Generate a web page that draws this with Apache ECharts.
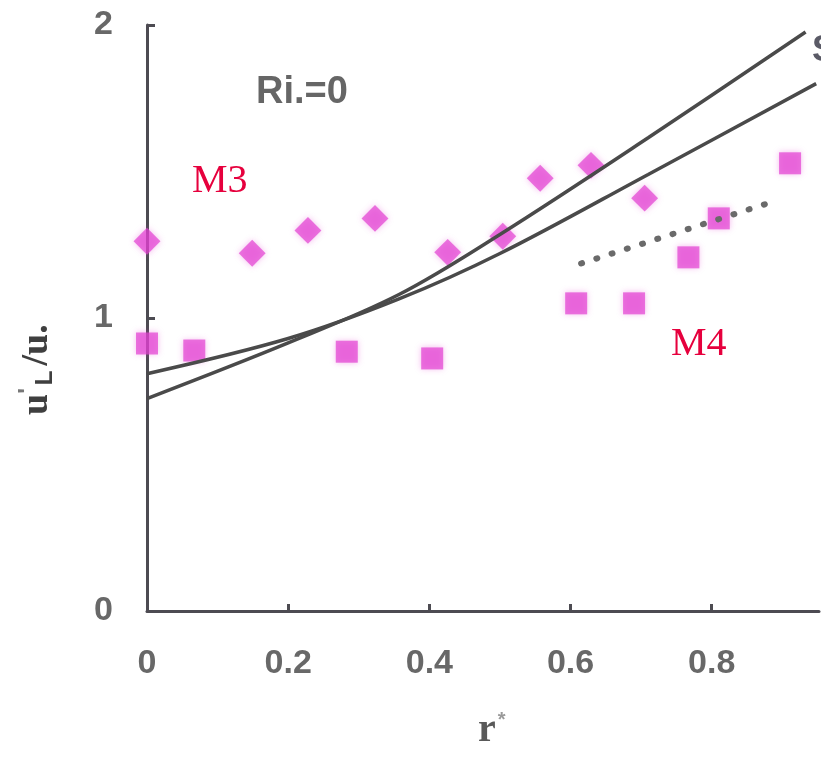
<!DOCTYPE html>
<html>
<head>
<meta charset="utf-8">
<script src="https://cdn.jsdelivr.net/npm/echarts@6/dist/echarts.min.js"></script>
<style>
html,body{margin:0;padding:0;background:#fff;}
#chart{width:821px;height:757px;}
</style>
</head>
<body>
<div id="chart"></div>
<script>
// Data
var xTicks = [0, 0.2, 0.4, 0.6, 0.8];
var yTicks = [0, 1, 2];
var m3Points = [[0,1.262],[0.149,1.221],[0.228,1.299],[0.323,1.340],[0.426,1.224],[0.504,1.279],[0.557,1.477],[0.629,1.521],[0.705,1.409]];
var m4Points = [[0,0.913],[0.067,0.889],[0.283,0.885],[0.404,0.862],[0.608,1.05],[0.690,1.05],[0.767,1.207],[0.810,1.34],[0.911,1.528]];
var curveFlat = [[0,0.81],[0.2,0.93],[0.357,1.065],[0.5,1.22],[0.71,1.49],[0.948,1.80]];
var curveSteep = [[0,0.725],[0.2,0.915],[0.357,1.08],[0.5,1.285],[0.71,1.615],[0.933,1.976]];
var dottedLine = [[0.615,1.186],[0.888,1.398]];

var chart = echarts.init(document.getElementById('chart'), null, {renderer:'canvas'});
var axisColor = '#4d4b52';
var labelFont = {color:'#686868', fontSize:34, fontWeight:'bold', fontFamily:'Liberation Sans, Arial, sans-serif'};
var mag = 'rgba(226,62,210,0.88)';

chart.setOption({
  backgroundColor:'#ffffff',
  animation:false,
  grid:{left:147, top:25, width:672, height:586, containLabel:false},
  xAxis:{
    type:'value', min:0, max:0.952, interval:0.2,
    axisLine:{show:true, onZero:false, lineStyle:{color:axisColor, width:3}},
    axisTick:{show:true, inside:true, length:7, lineStyle:{color:axisColor, width:3}},
    splitLine:{show:false},
    axisLabel:Object.assign({margin:36, showMaxLabel:false, formatter:function(v){
      for (var i=0;i<xTicks.length;i++){ if (Math.abs(v-xTicks[i])<1e-6) return String(xTicks[i]); }
      return '';
    }}, labelFont)
  },
  yAxis:{
    type:'value', min:0, max:2, interval:1,
    axisLine:{show:true, onZero:false, lineStyle:{color:axisColor, width:3}},
    axisTick:{show:true, inside:true, length:8, lineStyle:{color:axisColor, width:3}},
    splitLine:{show:false},
    axisLabel:Object.assign({margin:34, formatter:function(v){
      return yTicks.indexOf(v) >= 0 ? String(v) : '';
    }}, labelFont)
  },
  series:[
    {type:'line', data:curveFlat, smooth:0.35, showSymbol:false, symbol:'none',
     lineStyle:{color:'#4a4a4a', width:3.5}, z:3},
    {type:'line', data:curveSteep, smooth:0.35, showSymbol:false, symbol:'none',
     lineStyle:{color:'#4a4a4a', width:3.5}, z:3},
    {type:'line', data:dottedLine, showSymbol:false, symbol:'none',
     lineStyle:{color:'#6a6a6a', width:6, type:[1,15], cap:'round'}, z:3},
    {type:'scatter', data:m3Points, symbol:'rect', symbolRotate:45, symbolSize:19,
     itemStyle:{color:mag, shadowBlur:6, shadowColor:'rgba(228,64,210,0.5)'}, z:2},
    {type:'scatter', data:m4Points, symbol:'rect', symbolSize:22,
     itemStyle:{color:mag, shadowBlur:6, shadowColor:'rgba(228,64,210,0.5)'}, z:2}
  ],
  graphic:[
    {type:'text', left:256, top:74, style:{text:'Ri.=0', fill:'#666666', font:'bold 38px "Liberation Sans", Arial, sans-serif'}},
    {type:'text', left:192, top:161, style:{text:'M3', fill:'#e6003d', font:'40px "Liberation Serif", "Times New Roman", serif'}},
    {type:'text', left:671, top:324, style:{text:'M4', fill:'#e6003d', font:'40px "Liberation Serif", "Times New Roman", serif'}},
    {type:'text', left:812, top:33, style:{text:'S', fill:'#5a5a66', font:'bold 36px "Liberation Sans", Arial, sans-serif'}},
    {type:'text', x:478, y:710, style:{
      text:'{r|r}{s|*}', rich:{
        r:{fill:'#595959', font:'bold 40px "Liberation Serif", serif'},
        s:{fill:'#9a9a9a', font:'bold 20px "Liberation Sans", sans-serif', padding:[0,0,22,2]}
      }}},
    {type:'text', x:16, y:415, rotation:Math.PI/2, style:{
      text:'{a|u}{s|\'}{b|L}{a|/u.}', rich:{
        a:{fill:'#3f3f3f', font:'bold 38px "Liberation Serif", serif'},
        s:{fill:'#777777', font:'bold 24px "Liberation Sans", sans-serif', padding:[0,3,18,0]},
        b:{fill:'#3f3f3f', font:'bold 24px "Liberation Sans", sans-serif', padding:[16,5,0,0]}
      }}}
  ]
});
</script>
</body>
</html>
